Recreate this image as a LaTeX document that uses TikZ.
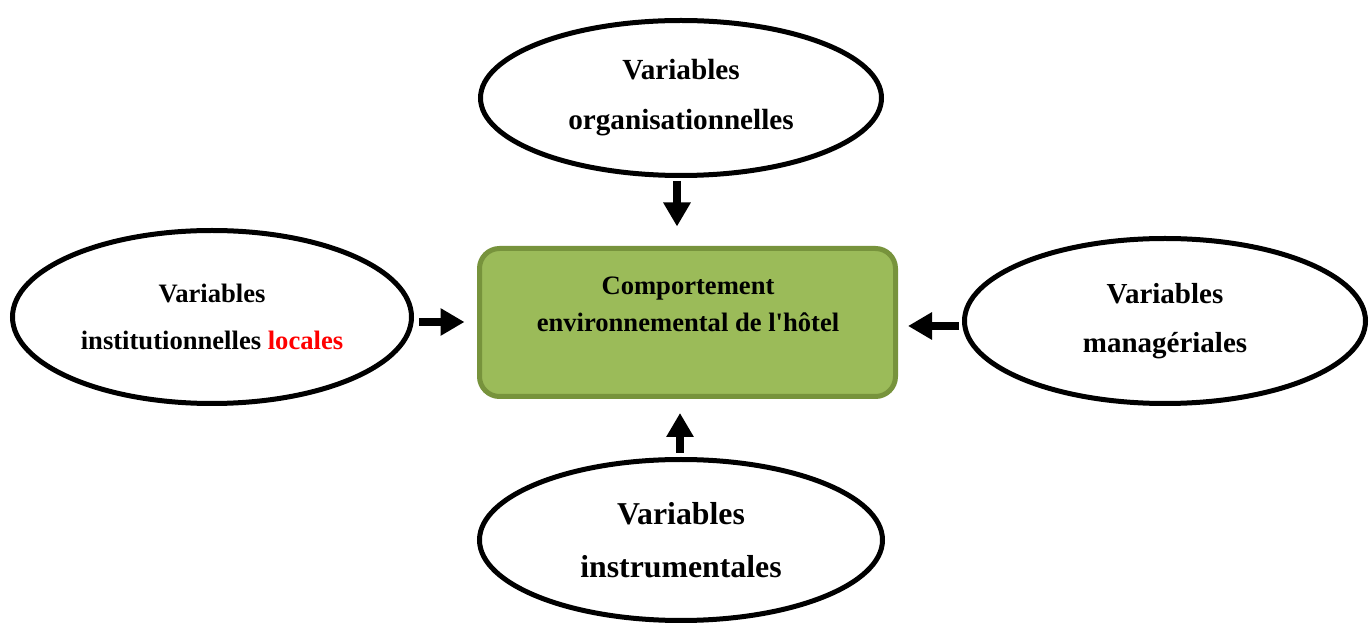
\documentclass[tikz,border=0pt]{standalone}
\usepackage{fontspec}
\setmainfont{Liberation Serif}
% same family without TeX ligatures, for a straight apostrophe
\newfontfamily\plainserif{Liberation Serif}
\usetikzlibrary{shapes.geometric,arrows.meta,calc}
\definecolor{boxfill}{HTML}{9BBB59}
\definecolor{boxline}{HTML}{77933C}
\definecolor{accent}{HTML}{FF0000}

\begin{document}
\begin{tikzpicture}[x=0.5pt,y=-0.5pt,
  var/.style={ellipse,draw=black,line width=2.5pt,fill=white,inner sep=0pt,align=center},
  arr/.style={line width=4pt,-{Triangle[width=13pt,length=12pt]}}]
\useasboundingbox (0,0) rectangle (1372,625);

% surrounding groups of variables
\node[var,minimum width=200.5pt,minimum height=77.5pt,
      font=\bfseries\fontsize{14.6}{25}\selectfont] (org) at (681,98)
      {Variables\\organisationnelles};
\node[var,minimum width=199.5pt,minimum height=86.5pt,
      font=\bfseries\fontsize{13.3}{23.5}\selectfont] (inst) at (212,317)
      {Variables\\institutionnelles \textcolor{accent}{locales}};
\node[var,minimum width=200.5pt,minimum height=82.5pt,
      font=\bfseries\fontsize{14.5}{24.5}\selectfont] (man) at (1165,321)
      {Variables\\managériales};
\node[var,minimum width=201.5pt,minimum height=80.5pt,
      font=\bfseries\fontsize{15.9}{26.5}\selectfont] (instr) at (681,540)
      {Variables\\instrumentales};

% central box
\node[draw=boxline,fill=boxfill,line width=2.5pt,rounded corners=10pt,
      minimum width=208pt,minimum height=74pt,inner sep=0pt] (box) at (687.5,322.5) {};
\node[font=\bfseries\fontsize{13.3}{18.5}\selectfont,align=center] (boxtext) at (688,304)
      {Comportement\\environnemental de l{\plainserif\bfseries '}hôtel};

% influences towards the centre
\draw[arr] ($(org.south)+(-4,3)$) -- ($(box.north)+(-10.5,-19.5)$);
\draw[arr] ($(inst.east)+(5,5)$) -- ($(box.west)+(-12.5,-0.5)$);
\draw[arr] ($(man.west)+(-3,5)$) -- ($(box.east)+(10,3.5)$);
\draw[arr] ($(instr.north)+(-1,-4)$) -- ($(box.south)+(-7.5,14)$);
\end{tikzpicture}
\end{document}
